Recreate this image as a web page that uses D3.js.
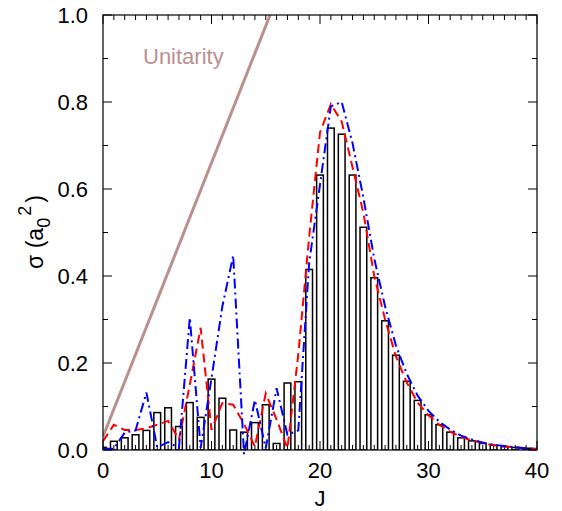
<!DOCTYPE html>
<html>
<head>
<meta charset="utf-8">
<script src="https://cdn.jsdelivr.net/npm/d3@7"></script>
<style>
  body { margin: 0; background: #fff; }
  text { font-family: "Liberation Sans", Arial, sans-serif; fill: #000; }
</style>
</head>
<body>
<div id="chart"></div>
<script>
// values, one per J = 0..40
const jValues = d3.range(0, 41);
const barSigma = [0.006, 0.020, 0.028, 0.035, 0.045, 0.086, 0.097, 0.054, 0.109, 0.075,
  0.163, 0.119, 0.046, 0.041, 0.063, 0.104, 0.015, 0.154, 0.157, 0.415,
  0.632, 0.740, 0.726, 0.632, 0.512, 0.396, 0.297, 0.218, 0.158, 0.114,
  0.081, 0.058, 0.041, 0.028, 0.021, 0.015, 0.011, 0.008, 0.006, 0.004, 0.003];
const redSigma = [0.020, 0.058, 0.046, 0.046, 0.050, 0.058, 0.067, 0.024, 0.150, 0.281,
  0.046, 0.108, 0.104, 0.060, 0.008, 0.130, 0.070, 0.004, 0.220, 0.490,
  0.730, 0.795, 0.755, 0.650, 0.545, 0.400, 0.300, 0.215, 0.155, 0.109,
  0.080, 0.058, 0.042, 0.030, 0.022, 0.016, 0.011, 0.008, 0.006, 0.004, 0.003];
const blueSigma = [0.003, 0.003, 0.040, 0.045, 0.132, 0.006, 0.018, 0.005, 0.304, 0.005,
  0.165, 0.330, 0.447, -0.010, 0.115, 0.004, 0.142, 0.035, 0.045, 0.430,
  0.610, 0.790, 0.800, 0.705, 0.580, 0.440, 0.330, 0.240, 0.175, 0.125,
  0.090, 0.065, 0.047, 0.033, 0.024, 0.017, 0.012, 0.009, 0.006, 0.004, 0.003];
// unitarity limit: straight line, end points
const unitarityJ = [0, 15.4];
const unitaritySigma = [0.031, 1.0];

const xTicks = [0, 10, 20, 30, 40];
const yTicks = [0, 0.2, 0.4, 0.6, 0.8, 1.0];

const width = 562, height = 511;
const margin = { top: 15, right: 25, bottom: 61, left: 103 };

const svg = d3.select("#chart").append("svg")
  .attr("width", width)
  .attr("height", height);

const x = d3.scaleLinear().domain([0, 40]).range([margin.left, width - margin.right]);
const y = d3.scaleLinear().domain([0, 1]).range([height - margin.bottom, margin.top]);

svg.append("clipPath").attr("id", "plot-clip")
  .append("rect")
    .attr("x", margin.left)
    .attr("y", margin.top)
    .attr("width", x(40) - x(0))
    .attr("height", y(0) - y(1));

// bars (histogram)
const barW = x(0.62) - x(0);
svg.append("g")
  .attr("clip-path", "url(#plot-clip)")
  .selectAll("rect")
  .data(jValues)
  .join("rect")
    .attr("x", j => x(j) - barW / 2)
    .attr("y", j => y(barSigma[j]))
    .attr("width", barW)
    .attr("height", j => y(0) - y(barSigma[j]))
    .attr("fill", "#fff")
    .attr("stroke", "#000")
    .attr("stroke-width", 1.5);

// ticks: inward, mirrored on all four sides
const axes = svg.append("g").attr("stroke", "#000").attr("stroke-width", 1);
d3.range(0, 41).forEach(j => {
  const len = j % 10 === 0 ? 9 : 5;
  axes.append("line").attr("x1", x(j)).attr("x2", x(j)).attr("y1", y(0)).attr("y2", y(0) - len);
  axes.append("line").attr("x1", x(j)).attr("x2", x(j)).attr("y1", y(1)).attr("y2", y(1) + len);
});
d3.range(0, 11).forEach(i => {
  const v = i / 10;
  const len = i % 2 === 0 ? 9 : 5;
  axes.append("line").attr("x1", x(0)).attr("x2", x(0) + len).attr("y1", y(v)).attr("y2", y(v));
  axes.append("line").attr("x1", x(40)).attr("x2", x(40) - len).attr("y1", y(v)).attr("y2", y(v));
});

// unitarity line + label
svg.append("line")
  .attr("clip-path", "url(#plot-clip)")
  .attr("x1", x(unitarityJ[0])).attr("y1", y(unitaritySigma[0]))
  .attr("x2", x(unitarityJ[1])).attr("y2", y(unitaritySigma[1]))
  .attr("stroke", "#bc8f8f")
  .attr("stroke-width", 3);

svg.append("text")
  .text("Unitarity")
  .attr("x", 143)
  .attr("y", 64)
  .style("font-size", "22px")
  .style("fill", "#bc8f8f");

// curves
const line = d3.line().x((d, i) => x(jValues[i])).y(d => y(d));

svg.append("path")
  .datum(redSigma)
  .attr("d", line)
  .attr("fill", "none")
  .attr("stroke", "#ff0000")
  .attr("stroke-width", 2)
  .attr("stroke-dasharray", "9,5");

svg.append("path")
  .datum(blueSigma)
  .attr("d", line)
  .attr("fill", "none")
  .attr("stroke", "#0000ff")
  .attr("stroke-width", 2)
  .attr("stroke-dasharray", "10,4,2,4");

// frame
svg.append("rect")
  .attr("x", x(0)).attr("y", y(1))
  .attr("width", x(40) - x(0)).attr("height", y(0) - y(1))
  .attr("fill", "none")
  .attr("stroke", "#000")
  .attr("stroke-width", 1.2);

// tick labels
svg.append("g").selectAll("text")
  .data(xTicks)
  .join("text")
    .text(d => d)
    .attr("x", d => x(d))
    .attr("y", y(0) + 28)
    .attr("text-anchor", "middle")
    .style("font-size", "22px");

svg.append("g").selectAll("text")
  .data(yTicks)
  .join("text")
    .text(d => d.toFixed(1))
    .attr("x", 88)
    .attr("y", d => y(d) + 8)
    .attr("text-anchor", "end")
    .style("font-size", "22px");

// axis titles
svg.append("text")
  .text("J")
  .attr("x", x(20))
  .attr("y", 506)
  .attr("text-anchor", "middle")
  .style("font-size", "22px");

const yTitle = svg.append("text")
  .attr("transform", "translate(43, 232) rotate(-90)")
  .attr("text-anchor", "middle")
  .style("font-size", "23px");
yTitle.append("tspan").text("σ (a");
yTitle.append("tspan").text("0").attr("dy", 7).style("font-size", "18px");
yTitle.append("tspan").text("2").attr("dx", 2).attr("dy", -19).style("font-size", "18px");
yTitle.append("tspan").text(")").attr("dx", 3).attr("dy", 12);
</script>
</body>
</html>
